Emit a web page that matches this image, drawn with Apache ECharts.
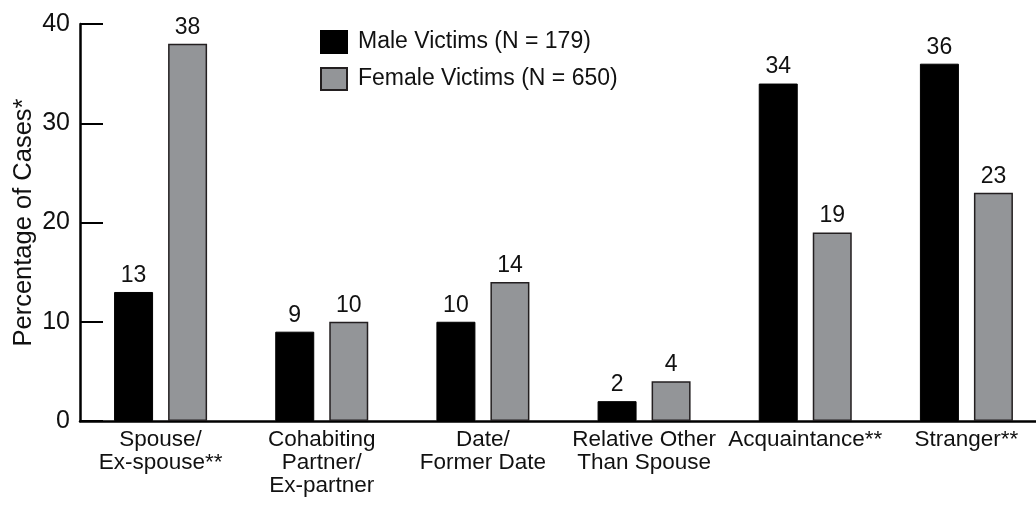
<!DOCTYPE html>
<html>
<head>
<meta charset="utf-8">
<script src="https://cdn.jsdelivr.net/npm/echarts@6/dist/echarts.min.js"></script>
<style>
  html, body { margin: 0; padding: 0; background: #fff; }
  #chart { width: 1036px; height: 510px; }
</style>
</head>
<body>
<div id="chart"></div>
<script>
var categories = ['Spouse/\nEx-spouse**', 'Cohabiting\nPartner/\nEx-partner', 'Date/\nFormer Date', 'Relative Other\nThan Spouse', 'Acquaintance**', 'Stranger**'];
var maleValues = [13, 9, 10, 2, 34, 36];
var femaleValues = [38, 10, 14, 4, 19, 23];
var seriesNames = ['Male Victims (N = 179)', 'Female Victims (N = 650)'];
var yTicks = [0, 10, 20, 30, 40];

var font = "'Liberation Sans', Arial, Helvetica, sans-serif";
var ink = '#111';
var gray = '#939598';

var chart = echarts.init(document.getElementById('chart'), null, { renderer: 'canvas' });

// bar label shared by both series
var barLabel = {
  show: true,
  position: 'top',
  distance: 5,
  color: ink,
  fontSize: 23,
  fontFamily: font
};

chart.setOption({
  animation: false,
  backgroundColor: '#fff',
  textStyle: { fontFamily: font },
  legend: {
    orient: 'vertical',
    left: 315,
    top: 25,
    itemWidth: 26,
    itemHeight: 22,
    itemGap: 13,
    icon: 'rect',
    data: seriesNames,
    textStyle: { color: ink, fontSize: 23, fontFamily: font, padding: [0, 0, 0, 6] }
  },
  // axis line runs off the right edge, as in the original
  grid: { left: 80, right: -11, top: 24, bottom: 89, containLabel: false, outerBoundsMode: 'none' },
  xAxis: {
    type: 'category',
    data: categories,
    axisLine: { lineStyle: { color: '#000', width: 2.5 } },
    axisTick: { show: false },
    axisLabel: {
      interval: 0,
      margin: 7,
      color: ink,
      fontSize: 22.5,
      lineHeight: 23,
      fontFamily: font
    }
  },
  yAxis: {
    type: 'value',
    min: yTicks[0],
    max: yTicks[yTicks.length - 1],
    interval: 10,
    name: 'Percentage of Cases*',
    nameLocation: 'middle',
    nameGap: 43,
    nameMoveOverlap: false,
    nameTextStyle: { color: ink, fontSize: 25.5, fontFamily: font },
    axisLine: { show: true, lineStyle: { color: '#000', width: 2.5 } },
    axisTick: { show: true, inside: true, length: 23, lineStyle: { color: '#000', width: 2 } },
    axisLabel: { color: ink, fontSize: 25, margin: 10, fontFamily: font },
    splitLine: { show: false }
  },
  series: [
    {
      name: seriesNames[0],
      type: 'bar',
      data: maleValues,
      barWidth: 39,
      barGap: '38.5%',
      itemStyle: { color: '#000', borderColor: '#000', borderWidth: 1 },
      label: barLabel
    },
    {
      name: seriesNames[1],
      type: 'bar',
      data: femaleValues,
      barWidth: 39,
      itemStyle: { color: gray, borderColor: '#231f20', borderWidth: 1.5 },
      label: barLabel
    }
  ]
});
</script>
</body>
</html>
